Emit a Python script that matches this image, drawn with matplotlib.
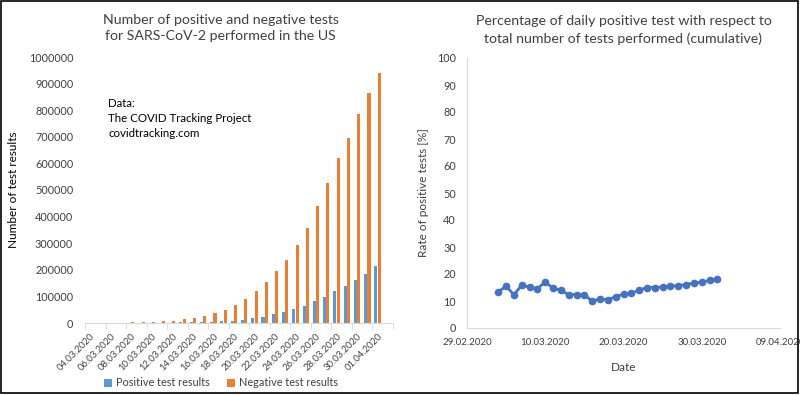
import numpy as np
import pandas as pd
import matplotlib
matplotlib.use('Agg')
import matplotlib.pyplot as plt
import matplotlib.dates as mdates
from matplotlib.patches import Rectangle

plt.rcParams['font.family'] = ['Lato', 'DejaVu Sans']

# left chart: cumulative tests in the US (04.03.2020 - 02.04.2020)
days = pd.date_range('2020-03-04', '2020-04-02', freq='D')
cat_labels = [d.strftime('%d.%m.%Y') for d in days]
positive = [150, 220, 320, 420, 560, 700, 900, 1100, 1600, 2200, 2700, 3300, 4600, 6200,
            7700, 11700, 17000, 23000, 33000, 42000, 52000, 64000, 81000, 99000,
            121000, 140000, 162000, 186000, 214000, 0]
negative = [800, 1000, 1300, 1600, 2000, 2600, 3500, 7000, 9000, 15000, 19000, 25000, 36000,
            48000, 66000, 89000, 120000, 156000, 195000, 237000, 293000, 358000,
            440000, 528000, 620000, 695000, 787000, 865000, 940000, 0]

# right chart: daily positive rate in percent (04.03.2020 - 01.04.2020)
rate_dates = pd.date_range('2020-03-04', '2020-04-01', freq='D')
rate = [13.4, 15.5, 12.3, 15.9, 15.1, 14.6, 17.1, 14.7, 14.0, 12.3, 12.4, 12.3, 9.9, 10.8,
        10.5, 11.6, 12.5, 12.8, 14.0, 15.0, 15.0, 15.2, 15.5, 15.7, 16.1, 16.7, 17.0,
        17.6, 18.2]

txt = '#404040'
axcol = '#d9d9d9'

fig = plt.figure(figsize=(8, 3.95), dpi=100)

# ---- left chart
ax1 = fig.add_axes([85 / 800, 1 - 323 / 395, 308 / 800, 266 / 395])
x = np.arange(len(days))
ax1.bar(x - 0.16, positive, width=0.3, color='#5B9BD5', label='Positive test results')
ax1.bar(x + 0.16, negative, width=0.3, color='#ED7D31', label='Negative test results')
ax1.set_xlim(-0.5, len(days) - 0.5)
ax1.set_ylim(0, 1000000)
ax1.set_yticks(np.arange(0, 1000001, 100000))
ax1.set_yticklabels([str(v) for v in range(0, 1000001, 100000)])
ax1.set_xticks(x[::2][:15])
ax1.set_xticklabels(cat_labels[::2][:15], rotation=45, ha='right', rotation_mode='anchor')
ax1.set_xticks(np.arange(-0.5, len(days), 2), minor=True)
ax1.tick_params(axis='x', which='major', length=0, pad=6, labelsize=6.8, labelcolor=txt)
ax1.tick_params(axis='x', which='minor', length=4, color=axcol)
ax1.tick_params(axis='y', length=0, pad=8.5, labelsize=7.8, labelcolor=txt)
for s in ['top', 'right', 'left']:
    ax1.spines[s].set_visible(False)
ax1.spines['bottom'].set_color(axcol)
ax1.set_ylabel('Number of test results', fontsize=8.5, color='black', labelpad=7)
ax1.set_title('Number of positive and negative tests\nfor SARS-CoV-2 performed in the US',
              fontsize=10.2, color=txt, pad=12, x=0.44, linespacing=1.45)
ax1.text(0.075, 0.845, 'Data:\nThe COVID Tracking Project\ncovidtracking.com',
         transform=ax1.transAxes, fontsize=8.3, va='top', linespacing=1.45)
leg = fig.legend(loc='center', bbox_to_anchor=(221 / 800, 1 - 383 / 395), ncol=2,
                 frameon=False, fontsize=7.8, handlelength=0.7, handleheight=0.7,
                 columnspacing=1.6, handletextpad=0.4)
for t in leg.get_texts():
    t.set_color(txt)

# ---- right chart
ax2 = fig.add_axes([467 / 800, 1 - 328 / 395, 313 / 800, 270 / 395])
ax2.plot(rate_dates, rate, color='#4472C4', marker='o', markersize=4.5, linewidth=2)
ax2.set_xlim(pd.Timestamp('2020-02-29'), pd.Timestamp('2020-04-09'))
ax2.set_ylim(0, 100)
ax2.set_yticks(range(0, 101, 10))
ax2.set_xticks(pd.date_range('2020-02-29', '2020-04-09', freq='10D'))
ax2.xaxis.set_major_formatter(mdates.DateFormatter('%d.%m.%Y'))
ax2.tick_params(axis='x', length=0, pad=7, labelsize=7, labelcolor=txt)
ax2.tick_params(axis='y', length=0, pad=8, labelsize=7.8, labelcolor=txt)
for s in ['top', 'right']:
    ax2.spines[s].set_visible(False)
ax2.spines['bottom'].set_color(axcol)
ax2.spines['left'].set_color(axcol)
ax2.set_xlabel('Date', fontsize=8.5, color=txt, labelpad=11)
ax2.set_ylabel('Rate of positive tests [%]', fontsize=8.5, color=txt, labelpad=6)
ax2.set_title('Percentage of daily positive test with respect to\ntotal number of tests performed (cumulative)',
              fontsize=10.2, color=txt, pad=11, linespacing=1.45)

fig.patches.append(Rectangle((0.001, 0.006), 0.997, 0.992, transform=fig.transFigure,
                             fill=False, edgecolor='black', linewidth=1.2))

fig.savefig('out.png', dpi=100)
